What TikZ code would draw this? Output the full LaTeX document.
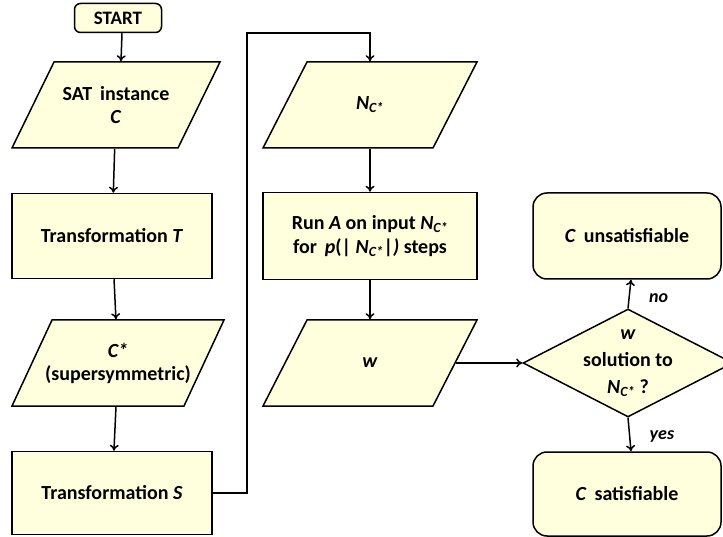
\documentclass[tikz,border=0pt]{standalone}
\usepackage{fontspec}
\setmainfont{Carlito}
\usepackage{xcolor}
\usetikzlibrary{arrows.meta, shapes.geometric}

\definecolor{cream}{RGB}{255,255,221}
\newcommand{\NC}{\textit{N}\textsubscript{\textit{C*}}}

\begin{document}
\begin{tikzpicture}[x=1pt, y=-1pt, >={To[length=6pt,width=9pt]}, line width=1.5pt,
    font=\bfseries\fontsize{20}{23}\selectfont]
        \useasboundingbox (0,0) rectangle (723,537);
        \tikzstyle{Proc} = [draw, fill=cream, align=center,
            minimum width=200pt, minimum height=85pt]
        \tikzstyle{Data} = [align=center, inner sep=0pt,
            minimum width=166pt, minimum height=86pt]
        \tikzstyle{Term} = [draw, fill=cream, rounded corners=14pt, align=center]
        \tikzstyle{Decide} = [draw, fill=cream, diamond, inner sep=0pt,
            minimum width=210pt, minimum height=108pt]
        \tikzstyle{Answer} = [font=\bfseries\itshape\fontsize{18}{21}\selectfont]
        % input/output parallelograms, drawn under their text nodes
        \foreach \cx/\cy/\hw/\s in {116/105/83/21, 118/363/86/20, 370/105/85/22, 370/363/85/22}
            \draw[fill=cream] (\cx-\hw-\s,\cy+43) -- (\cx+\hw-\s,\cy+43)
                -- (\cx+\hw+\s,\cy-43) -- (\cx-\hw+\s,\cy-43) -- cycle;
        % left column
        \node[Term, rounded corners=6pt, minimum width=87pt, minimum height=29pt,
            font=\bfseries\fontsize{19}{22}\selectfont] (start) at (118,18) {START};
        \node[Data] (sat) at (116,105) {SAT\, instance\\ \textit{C}};
        \node[Proc] (trT) at (112,236) {Transformation \textit{T}};
        \node[Data, minimum width=172pt] (cstar) at (118,363) {\textit{C*}\\(supersymmetric)};
        \node[Proc, minimum height=83pt] (trS) at (112,493) {Transformation \textit{S}};
        % middle column
        \node[Data, minimum width=170pt] (ncs) at (370,105) {\NC};
        \node[Proc, minimum width=214pt, minimum height=87pt,
            font=\bfseries\fontsize{20}{24}\selectfont] (run) at (370,236)
            {Run \textit{A} on input \NC\\ for\, \textit{p}(| \NC|\textit{)} steps};
        \node[Data, minimum width=170pt] (w) at (370,363) {\textit{w}};
        % right column
        \node[Decide] (dec) at (628,363) {};
        \node[align=center, font=\bfseries\fontsize{20}{27}\selectfont] (decText) at (628,363)
            {\textit{w}\\ solution to\\ \NC\ ?};
        \node[Term, minimum width=188pt, minimum height=86pt] (unsat) at (627,236)
            {\textit{C}\, unsatisfiable};
        \node[Term, minimum width=188pt, minimum height=84pt] (sats) at (627,494)
            {\textit{C}\, satisfiable};
        \coordinate (loop) at (247,33);
        % connectors
        \draw[->] ([xshift=4pt]start.south) -- ([xshift=5pt]sat.north);
        \draw[->] (sat) -- (trT);
        \draw[->] (trT) -- (cstar);
        \draw[->] (cstar) -- (trS);
        \draw[->] (trS.east) -| (loop) -| (ncs.north);
        \draw[->] (ncs) -- (run);
        \draw[->] (run) -- (w);
        \draw[->] (w.east) -- (dec.west);
        \draw[->] (dec.north) -- ([xshift=4pt]unsat.south)
            node[Answer, pos=0.35, right=16pt] {no};
        \draw[->] (dec.south) -- ([xshift=4pt]sats.north)
            node[Answer, pos=0.55, right=16pt] {yes};
\end{tikzpicture}
\end{document}
